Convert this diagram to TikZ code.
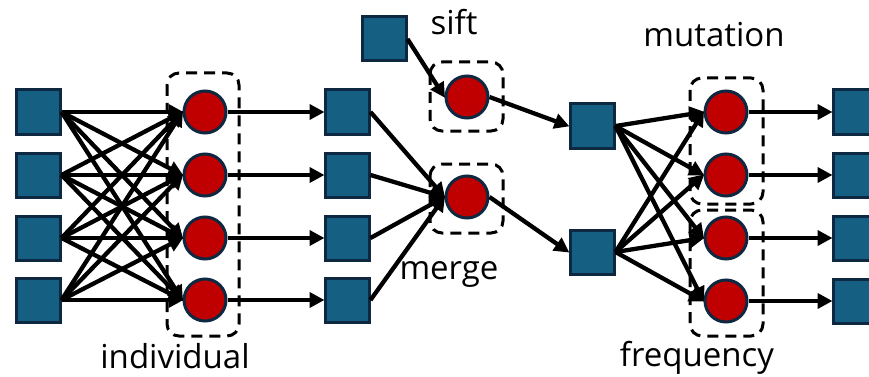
\documentclass[tikz,border=0pt]{standalone}
\usepackage{fontspec}
\setmainfont{Open Sans}
\usetikzlibrary{arrows.meta}
\definecolor{boxfill}{HTML}{156082}
\definecolor{edgedark}{HTML}{0E2841}
\definecolor{dotred}{HTML}{C00000}
\tikzset{
  sq/.style={rectangle, draw=edgedark, fill=boxfill, line width=3pt, minimum size=44pt, inner sep=0pt},
  dot/.style={circle, draw=edgedark, fill=dotred, line width=3pt, minimum size=42pt, inner sep=0pt},
  flow/.style={line width=4.3pt, -{Triangle[length=15pt,width=15pt]}, shorten >=-1pt},
  grp/.style={draw=black, line width=3pt, dash pattern=on 11pt off 7pt, rounded corners=12pt},
  lbl/.style={font=\fontsize{33}{36}\selectfont, anchor=base, inner sep=0pt}
}
\begin{document}
\begin{tikzpicture}[x=1pt, y=-1pt]
\useasboundingbox (0,0) rectangle (869,377);
\clip (0,0) rectangle (869,377);

% group outlines
\draw[grp] (167,73) rectangle (239,336);
\draw[grp] (430,62) rectangle (503,131);
\draw[grp] (430,164) rectangle (503,233);
\draw[grp] (690,78) rectangle (763,204);
\draw[grp] (690,210) rectangle (763,336);

% input squares, first layer of dots, middle squares
\foreach \i/\y in {1/112,2/175,3/238,4/300} {
  \node[sq]  (in\i) at (38,\y) {};
  \node[dot] (a\i)  at (205,\y) {};
  \node[sq]  (m\i)  at (347,\y) {};
}
% sift and merge
\node[sq]  (s)  at (384,39) {};
\node[dot] (sc) at (467,97) {};
\node[dot] (mc) at (467,197) {};
% second stage
\node[sq] (p1) at (592,126) {};
\node[sq] (p2) at (592,252) {};
\foreach \i/\y in {1/112,2/175,3/238,4/301} {
  \node[dot] (b\i)   at (726,\y) {};
  \node[sq]  (out\i) at (855,\y) {};
}

% labels
\node[lbl] (tind)  at (175,368) {individual};
\node[lbl] (tsift) at (454,35)  {sift};
\node[lbl] (tmrg)  at (449,279) {merge};
\node[lbl] (tmut)  at (714,47)  {mutation};
\node[lbl] (tfrq)  at (697,366) {frequency};

% connectors
\foreach \i in {1,...,4} {
  \foreach \j in {1,...,4} {
    \draw[flow] (in\i.east) -- (a\j.west);
  }
  \draw[flow] (a\i.east) -- (m\i.west);
  \draw[flow] (m\i.east) -- (mc.west);
  \draw[flow] (p1.east) -- (b\i.west);
  \draw[flow] (p2.east) -- (b\i.west);
  \draw[flow] (b\i.east) -- (out\i.west);
}
\draw[flow] (s.east) -- (sc.west);
\draw[flow] (sc.east) -- (p1.west);
\draw[flow] (mc.east) -- (p2.west);
\end{tikzpicture}
\end{document}
